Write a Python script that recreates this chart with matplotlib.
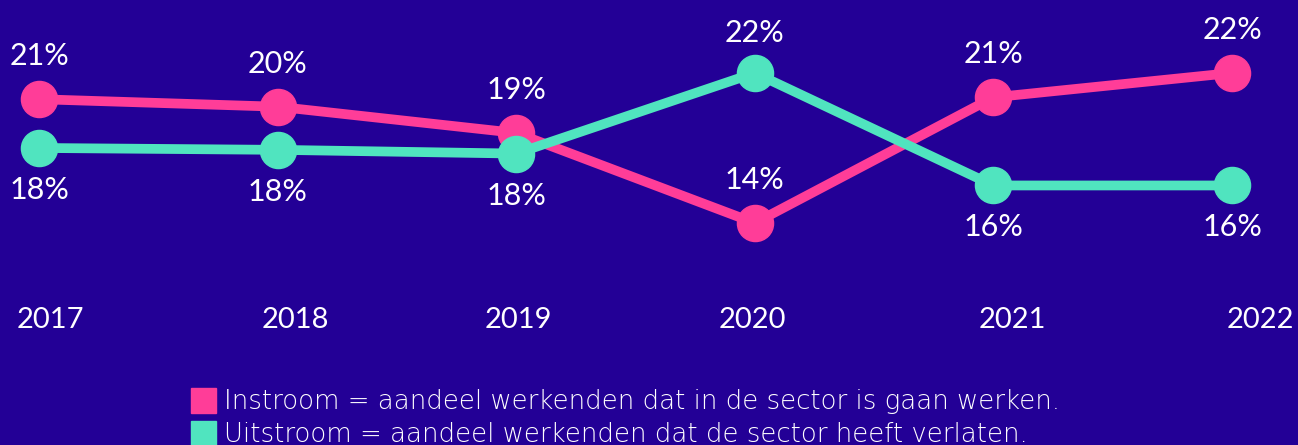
import matplotlib
matplotlib.use("Agg")
import matplotlib.pyplot as plt
from matplotlib.lines import Line2D
import matplotlib.transforms as mtransforms

years = ["2017", "2018", "2019", "2020", "2021", "2022"]
instroom = [20.6, 20.2, 18.8, 14.0, 20.7, 22.0]
uitstroom = [18.0, 17.9, 17.7, 22.0, 16.0, 16.0]
uit_label_above = [False, False, False, True, False, False]
legend_labels = [
    "Instroom = aandeel werkenden dat in de sector is gaan werken.",
    "Uitstroom = aandeel werkenden dat de sector heeft verlaten.",
]

BG = "#230096"
PINK = "#FF3D98"
TEAL = "#50E4BF"
FONT = ["Lato", "DejaVu Sans"]

plt.rcParams["font.family"] = FONT

fig = plt.figure(figsize=(12.98, 4.45), dpi=100, facecolor=BG)
ax = fig.add_axes([0, 0, 1, 1])
ax.set_facecolor(BG)
ax.set_xlim(-0.1635, 5.2766)
ax.set_ylim(2.16, 25.89)
ax.axis("off")

x = list(range(len(years)))
ax.plot(x, instroom, color=PINK, lw=7, marker="o", ms=26, zorder=3, solid_capstyle="round")
ax.plot(x, uitstroom, color=TEAL, lw=7, marker="o", ms=26, zorder=3, solid_capstyle="round")

lbl_kw = dict(color="white", fontsize=22, ha="center", va="center")
for i, v in enumerate(instroom):
    ax.annotate(f"{round(v)}%", (i, v), xytext=(0, 43), textcoords="offset pixels", **lbl_kw)
for i, v in enumerate(uitstroom):
    dy = 40 if uit_label_above[i] else -42
    ax.annotate(f"{round(v)}%", (i, v), xytext=(0, dy), textcoords="offset pixels", **lbl_kw)

# year labels (slight horizontal offsets as in the original layout)
year_shift_px = [11, 18, 2, -2, 19, 28]
trans = mtransforms.blended_transform_factory(ax.transData, ax.transAxes)
for i, y in enumerate(years):
    ax.annotate(y, (i, 1 - 320 / 445), xycoords=trans, xytext=(year_shift_px[i], 0),
                textcoords="offset pixels", color="white", fontsize=21,
                ha="center", va="center")

handles = [
    Line2D([], [], color=PINK, marker="s", ls="none", ms=18),
    Line2D([], [], color=TEAL, marker="s", ls="none", ms=18),
]
leg = fig.legend(handles, legend_labels, loc="upper left", bbox_to_anchor=(191 / 1298, 1 - 389 / 445),
                 frameon=False, prop={"family": "DejaVu Sans", "size": 18.7, "weight": 200},
                 labelcolor="white", handlelength=0.95,
                 handletextpad=0.32, labelspacing=0.3, borderpad=0, borderaxespad=0)

fig.savefig("out.png", dpi=100, facecolor=BG)
